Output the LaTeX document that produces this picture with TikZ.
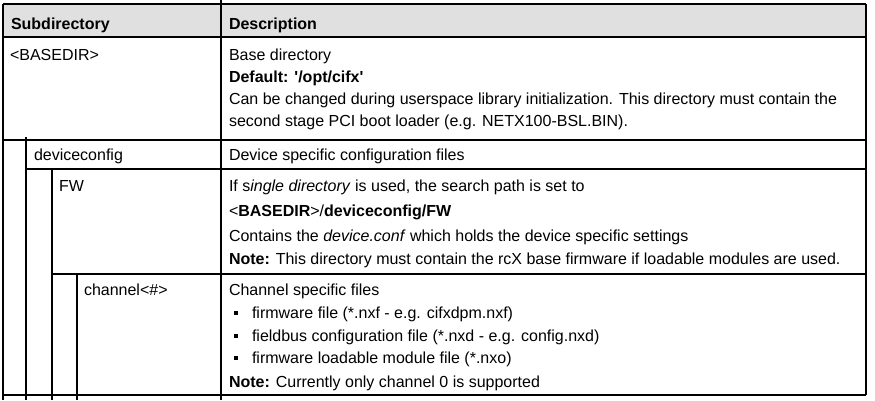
\documentclass[tikz,border=0pt]{standalone}
\usepackage{fontspec}
\setmainfont{Liberation Sans}
\definecolor{hdrgray}{HTML}{E0E0E0}
\begin{document}
\begin{tikzpicture}[x=1pt,y=-1pt,
  txt/.style={anchor=base west,inner sep=0pt,outer sep=0pt,font=\fontsize{16}{18}\selectfont},
  rule/.style={line width=1.2pt,black},
  bul/.style={fill=black,inner sep=0pt,minimum width=4pt,minimum height=4.4pt,shape=rectangle}]
\useasboundingbox (0,0) rectangle (875,400);
% header background
\fill[hdrgray] (3,4) rectangle (866,37);
% horizontal rules
\draw[rule] (3,4) -- (866,4);
\draw[rule] (3,37) -- (866,37);
\draw[rule] (3,140) -- (866,140);
\draw[rule] (26,169) -- (866,169);
\draw[rule] (52,274) -- (866,274);
\draw[rule] (3,395) -- (866,395);
% vertical rules
\draw[rule] (3,4) -- (3,400);
\draw[rule] (866,4) -- (866,395);
\draw[rule] (221,0) -- (221,400);
\draw[rule] (26,137) -- (26,400);
\draw[rule] (52,169) -- (52,400);
\draw[rule] (77,274) -- (77,400);
% header
\node[txt] (h1) at (11,29.3) {\textbf{Subdirectory}};
\node[txt] (h2) at (229,29.3) {\textbf{Description}};
% row 1
\node[txt] (r1a) at (10,60.5) {<BASEDIR>};
\node[txt] (r1b) at (229,60.5) {Base directory};
\node[txt] (r1c) at (229,82.5) {\textbf{Default: \textquotesingle/opt/cifx\textquotesingle}};
\node[txt] (r1d) at (229,104.5) {Can be changed during userspace library initialization. This directory must contain the};
\node[txt] (r1e) at (229,126.5) {second stage PCI boot loader (e.g. NETX100-BSL.BIN).};
% row 2
\node[txt] (r2a) at (34,160.5) {deviceconfig};
\node[txt] (r2b) at (229,160.5) {Device specific configuration files};
% row 3
\node[txt] (r3a) at (59,191) {FW};
\node[txt] (r3b) at (229,191) {If s\textit{ingle directory} is used, the search path is set to};
\node[txt] (r3c) at (229,216) {<\textbf{BASEDIR}>/\textbf{deviceconfig/FW}};
\node[txt] (r3d) at (229,241) {Contains the \textit{device.conf} which holds the device specific settings};
\node[txt] (r3e) at (229,264.5) {\textbf{Note:} This directory must contain the rcX base firmware if loadable modules are used.};
% row 4
\node[txt] (r4a) at (84,295) {channel<\#>};
\node[txt] (r4b) at (229,295) {Channel specific files};
\node[bul] (b1) at (235.5,313) {};
\node[txt] (r4c) at (252,318) {firmware file (*.nxf - e.g. cifxdpm.nxf)};
\node[bul] (b2) at (235.5,336) {};
\node[txt] (r4d) at (252,341) {fieldbus configuration file (*.nxd - e.g. config.nxd)};
\node[bul] (b3) at (235.5,358) {};
\node[txt] (r4e) at (252,363) {firmware loadable module file (*.nxo)};
\node[txt] (r4f) at (229,387) {\textbf{Note:} Currently only channel 0 is supported};
\end{tikzpicture}
\end{document}
